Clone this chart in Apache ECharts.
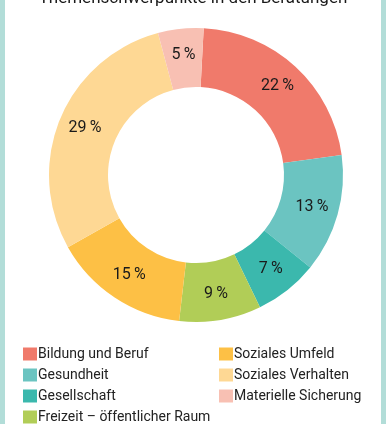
<!DOCTYPE html>
<html>
<head>
<meta charset="utf-8">
<script src="https://cdn.jsdelivr.net/npm/echarts@6/dist/echarts.min.js"></script>
<style>
  html, body { margin: 0; padding: 0; background: #fff; }
  #frame { position: absolute; left: 0; top: 0; width: 386px; height: 424px; box-sizing: border-box;
           border-left: 5px solid #b2ddd8; border-right: 5px solid #b2ddd8; }
  #chart { position: absolute; left: 0; top: 0; width: 386px; height: 424px; }
</style>
</head>
<body>
<div id="frame"></div>
<div id="chart"></div>
<script>
// Beratungsthemen in Prozent
const categories = [
  'Bildung und Beruf',
  'Gesundheit',
  'Gesellschaft',
  'Freizeit – öffentlicher Raum',
  'Soziales Umfeld',
  'Soziales Verhalten',
  'Materielle Sicherung'
];
const shares = [22, 13, 7, 9, 15, 29, 5];
const colors = ['#f07a6b', '#6bc4c1', '#3bb8ad', '#b1cd57', '#fdc045', '#fed894', '#f8c0b3'];
const leftLegend = categories.slice(0, 4);
const rightLegend = categories.slice(4);

const font = "'Roboto', sans-serif";

const chart = echarts.init(document.getElementById('chart'), null, { renderer: 'canvas' });
const legendBase = {
  orient: 'vertical',
  itemWidth: 14,
  itemHeight: 13,
  itemGap: 7,
  icon: 'rect',
  padding: 0,
  textStyle: { fontFamily: font, fontSize: 14, color: '#222', padding: [0, 0, 0, -4] },
  selectedMode: false
};
chart.setOption({
  animation: false,
  color: colors,
  title: {
    text: 'Themenschwerpunkte in den Beratungen',
    left: 'center',
    top: -10,
    padding: 0,
    textStyle: { fontFamily: font, fontSize: 17, fontWeight: 'normal', color: '#1a1a1a' }
  },
  legend: [
    Object.assign({}, legendBase, { data: leftLegend, left: 23, top: 347 }),
    Object.assign({}, legendBase, { data: rightLegend, left: 219, top: 347 })
  ],
  series: [{
    type: 'pie',
    center: [196, 175],
    radius: [88, 147],
    startAngle: 87,
    clockwise: true,
    avoidLabelOverlap: false,
    label: {
      position: 'inside',
      formatter: p => p.value + '\u2009%',
      fontFamily: font,
      fontSize: 16,
      color: '#1a1a1a'
    },
    labelLine: { show: false },
    itemStyle: { borderWidth: 0 },
    emphasis: { disabled: true },
    data: categories.map((name, i) => ({ name: name, value: shares[i] }))
  }]
});
</script>
</body>
</html>
